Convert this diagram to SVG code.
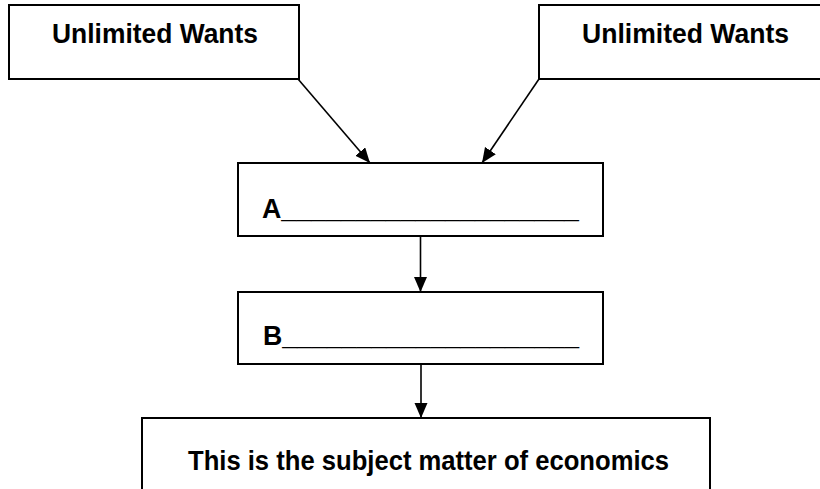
<svg xmlns="http://www.w3.org/2000/svg" width="820" height="489" viewBox="0 0 820 489">
<style>
.box{fill:#fff;stroke:#000;stroke-width:2}
.t{font-family:"Liberation Sans",Arial,sans-serif;font-weight:bold;font-size:28px;fill:#000}
.u{stroke:#000;stroke-width:3}
.c{stroke:#000;stroke-width:1.6;fill:none;marker-end:url(#ah)}
</style>
<defs>
<marker id="ah" markerUnits="userSpaceOnUse" markerWidth="16" markerHeight="14" refX="15" refY="6.5" orient="auto">
<path d="M0,0 L15,6.5 L0,13 z" fill="#000"/>
</marker>
</defs>
<rect width="820" height="489" fill="#fff"/>
<g id="wants-left">
<rect class="box" x="9" y="5" width="290" height="74"/>
<text class="t" x="52" y="43" textLength="206" lengthAdjust="spacingAndGlyphs">Unlimited Wants</text>
</g>
<g id="wants-right">
<rect class="box" x="539" y="5" width="300" height="74"/>
<text class="t" x="582" y="43" textLength="207" lengthAdjust="spacingAndGlyphs">Unlimited Wants</text>
</g>
<g id="node-a">
<rect class="box" x="238" y="163" width="365" height="73"/>
<text class="t" x="262" y="218" textLength="317" lengthAdjust="spacingAndGlyphs">A____________________</text>
</g>
<g id="node-b">
<rect class="box" x="238" y="292" width="365" height="72"/>
<text class="t" x="263" y="345" textLength="316" lengthAdjust="spacingAndGlyphs">B____________________</text>
</g>
<g id="subject">
<rect class="box" x="142" y="418" width="568" height="100"/>
<text class="t" x="188" y="470" textLength="481" lengthAdjust="spacingAndGlyphs">This is the subject matter of economics</text>
</g>
<g id="connectors">
<line class="c" x1="298" y1="79" x2="370" y2="163"/>
<line class="c" x1="539" y1="79" x2="482" y2="163"/>
<line class="c" x1="420.5" y1="236" x2="420.5" y2="292"/>
<line class="c" x1="421" y1="364" x2="421" y2="418"/>
</g>
</svg>
